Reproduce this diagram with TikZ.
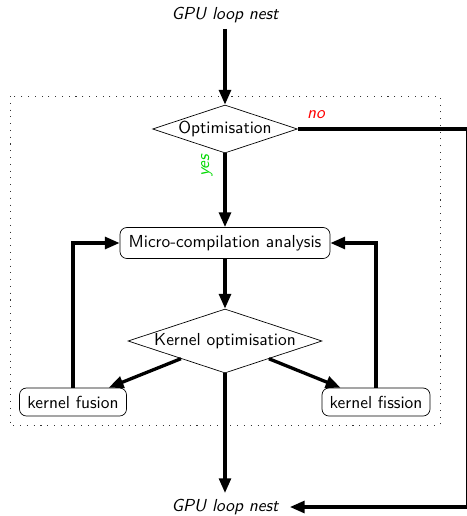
\documentclass[tikz,border=0pt]{standalone}
\usetikzlibrary{shapes.geometric,arrows.meta}
\begin{document}
\begin{tikzpicture}[x=0.575pt,y=-0.575pt,
  font=\sffamily,
  arr/.style={line width=1.9pt,-{Triangle[length=8.5pt,width=6.8pt]}},
  decision/.style={diamond,draw,thin,inner sep=0pt,aspect=3},
  proc/.style={draw,thin,rounded corners=4pt,inner sep=0pt},
  lbl/.style={font=\sffamily\slshape}]
\useasboundingbox (0,0) rectangle (467,516);
\draw[dash pattern=on 0.6pt off 3.3pt,thin,black!80] (10,96) rectangle (440,425);
\node[lbl] (top) at (225,15) {GPU loop nest};
\node[lbl] (bot) at (225,507) {GPU loop nest};
\node[decision,minimum width=145*0.575pt,minimum height=48*0.575pt] (opt) at (225,129) {Optimisation};
\node[proc,minimum width=210*0.575pt,minimum height=31*0.575pt] (micro) at (225,243) {Micro-compilation analysis};
\node[decision,minimum width=194*0.575pt,minimum height=64*0.575pt] (kopt) at (225,341) {Kernel optimisation};
\node[proc,minimum width=107*0.575pt,minimum height=28*0.575pt] (fusion) at (73,402) {kernel fusion};
\node[proc,minimum width=108*0.575pt,minimum height=28*0.575pt] (fission) at (376,402) {kernel fission};
\coordinate (nr) at (467.6,129);
\node[lbl,text=green!85!black,rotate=90] (yes) at (207,166) {yes};
\node[lbl,text=red] (no) at (316,115) {no};
\draw[arr] (top) -- (opt);
\draw[arr] (opt) -- (micro);
\draw[arr] (micro) -- (kopt);
\draw[arr] (kopt) -- (fusion);
\draw[arr] (kopt) -- (fission);
\draw[arr] (kopt) -- (bot);
\draw[arr] (fusion.north) |- (micro.west);
\draw[arr] (fission.north) |- (micro.east);
\draw[arr,shorten >=3pt] (opt.east) -- (nr) |- (bot.east);
\end{tikzpicture}
\end{document}
